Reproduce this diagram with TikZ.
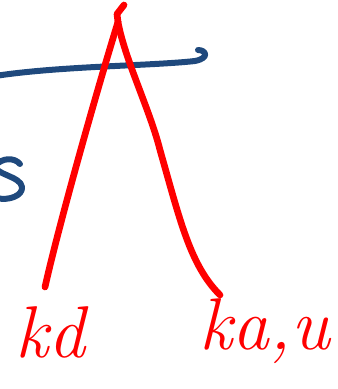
\documentclass[tikz,border=0pt]{standalone}
\usetikzlibrary{positioning}
\definecolor{inkblue}{RGB}{31,73,125}
\definecolor{inkred}{RGB}{255,0,0}
\begin{document}
\begin{tikzpicture}[
        x=0.75pt, y=-0.75pt,
        pen/.style={line width=5pt, line cap=round, line join=round},
        blueink/.style={pen, draw=inkblue, line width=4.5pt},
        redink/.style={pen, draw=inkred},
        label_text/.style={text=inkred, font=\fontsize{55}{55}\selectfont\itshape, inner sep=0pt}
    ]
        \useasboundingbox (0,0) rectangle (337,389);
        \clip (0,0) rectangle (337,389);

        % blue strokes behind
        \draw[blueink] (-5,76) .. controls (60,66) and (150,66) .. (195,61)
            .. controls (210,58) and (206,50) .. (198,50);
        \draw[blueink] (20,164) .. controls (14,157) and (2,158) .. (-4,165)
            .. controls (-8,174) and (21,176) .. (22,187)
            .. controls (23,196) and (8,201) .. (-3,198);

        \coordinate (apex) at (118,22);
        \coordinate (legL) at (45,287);
        \coordinate (legR) at (220,295);

        \node[label_text] (kd) at (50,332) {kd};
        \node[label_text] (kau) at (265,331) {ka,u};

        \draw[redink] (124,5) -- (117,14) -- (apex);
        \draw[redink] (apex) .. controls (100,80) and (60,220) .. (legL);
        \draw[redink] (apex) .. controls (125,60) and (150,110) .. (160,150)
            .. controls (180,220) and (190,265) .. (legR);

    \end{tikzpicture}
\end{document}
